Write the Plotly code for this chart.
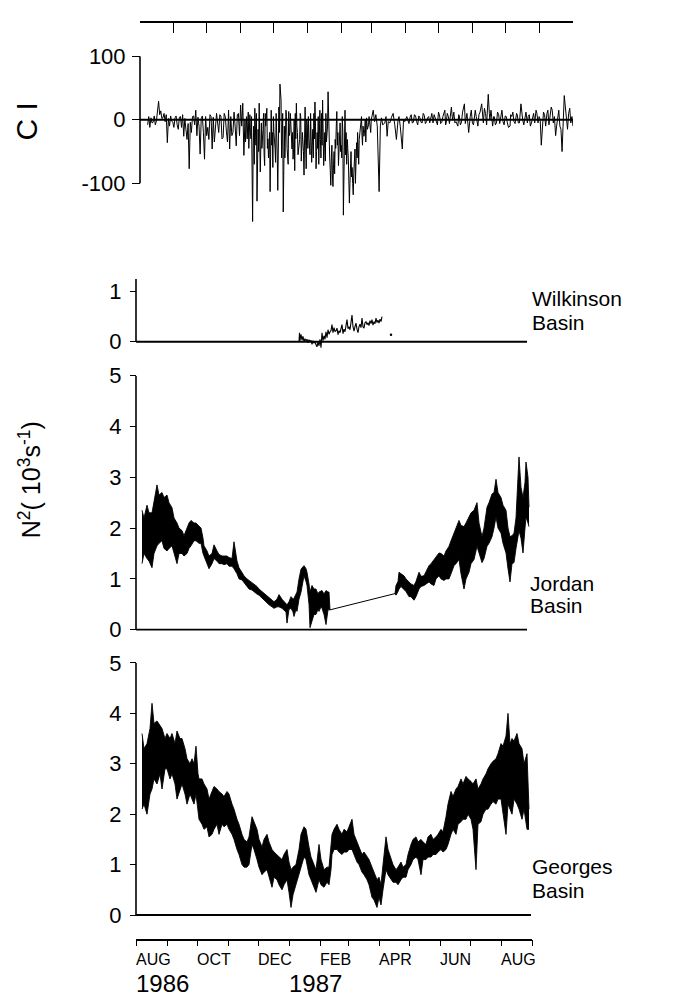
import datetime as dt
import plotly.graph_objects as go

W, H = 677, 1007
OFF = 8  # page body margin: page pixel = figure pixel + 8
BASE = dt.date(1986, 8, 1)

# ---------------- data ----------------
# Coastal index CI: (day since 1 Aug 1986, value) - main peaks
CI_MAIN = [
    (7, -8), (8, 5), (9, -12), (10, 3), (12, -4), (13, 6), (15, -2), (17, 29), (18, 8), (19, 14),
    (21, 3), (22, 10), (23, -3), (25, -36), (26, 2), (28, 6), (30, -4), (32, 3), (34, -8), (36, 4),
    (38, -12), (40, -26), (41, 2), (43, -31), (44, -6), (45, -77), (46, -4), (48, 5), (50, -8), (51, 15),
    (52, -25), (53, 4), (55, -54), (56, 2), (58, -20), (59, -62), (60, 5), (62, -12), (63, -31), (64, 8),
    (66, -46), (67, 4), (69, -15), (70, 10), (72, -20), (74, 6), (76, -28), (77, 10), (79, -18), (81, 15),
    (82, -46), (83, 5), (85, -20), (86, 12), (88, -41), (89, 8), (91, -25), (92, 23), (93, -10), (94, 26),
    (95, -56), (96, 0), (98, -30), (99, 12), (101, -20), (102, 5), (103, -160), (104, -10), (105, 18),
    (106, -40), (107, -128), (108, -15), (109, 26), (110, -82), (111, -5), (113, 10), (114, -72),
    (115, -10), (116, 18), (117, -30), (119, -113), (120, 15), (121, -20), (122, 5), (124, -67),
    (125, -10), (126, -111), (127, 20), (128, 56), (129, 31), (130, -30), (131, -145), (132, -10),
    (133, -36), (134, 5), (136, 13), (137, -20), (139, -46), (140, -62), (141, 0), (142, 10), (143, 26),
    (144, -20), (146, -31), (147, 5), (148, -40), (150, -87), (151, 20), (152, -77), (153, -10), (154, 5),
    (156, 10), (157, -67), (158, -15), (159, 10), (160, 28), (161, -77), (162, -20), (163, 5), (165, -31),
    (166, 10), (167, 31), (168, -72), (169, -20), (170, 10), (172, 44), (172.5, -5), (173.5, -60),
    (174.5, -103), (175.5, -40), (176.5, -105), (177.5, -50), (178.5, -31), (180, 13), (181.5, -72),
    (183, -5), (184, -40), (185, 5), (186, -150), (187.5, 15), (188.5, -20), (189.6, -31), (190.5, -60),
    (191.5, -131), (192.6, -72), (193.5, -90), (195, -118), (196, -60), (196.6, -46), (197.5, -80),
    (198.1, -36), (199, -20), (200.5, -31), (201.5, -5), (202.6, 5), (204, -10), (204.8, -26), (206, 0),
    (207.2, 3), (209, -8), (210.3, -13), (212, 5), (213.3, 15), (214.5, -3), (215.7, 8), (217, -10),
    (218.7, -113), (219.8, -10), (220.8, 3), (222, -8), (223.9, -5), (225, 5), (226, -26), (227, -3),
    (228.5, -5), (230, 4), (231.5, 10), (233, -8), (234.5, -31), (236, 0), (236.9, 5), (238, -10),
    (239.9, -46), (241, 0), (242.1, -3), (244, 5), (246, -6), (248, 8), (250, -4), (252, 6), (254, -8),
    (256, 3), (258, -5), (260, 7), (262, -3), (264, 5), (266.9, 10), (268, -5), (270, 3), (272, -8),
    (274, 6), (276, -4), (278.8, 15), (280, -5), (282, 5), (284.8, 20), (286, 0), (288, -5), (290.7, -10),
    (292, 6), (294, -4), (296.7, 25), (298, 0), (300.6, -20), (302, 5), (304, -5), (306.6, 15), (308, -3),
    (310, 8), (312.5, 25), (314, -5), (316, 10), (318.5, 40), (320, 0), (322.5, -10), (324, 5), (326, -5),
    (328, 8), (330.5, 10), (332, -3), (334, 6), (336, -5), (338.4, -10), (340, 5), (342, -3), (344.4, 10),
    (346, -5), (348.4, 25), (350, 0), (352, 5), (354.3, -5), (356, 8), (358, -5), (360, 10), (362.2, 15),
    (364, -5), (365, 5), (367, -40), (368, -5), (370, 8), (372.2, 10), (374, -8), (376.1, 20), (378, -5),
    (380.1, -25), (382, 8), (384, -10), (386, -50), (387, 5), (388, 38), (390, -5), (392, 10), (394, -5),
    (396, -10),
]
# finer CI wiggles read between the main peaks
CI_EARLY_DETAIL = [
    (7.5, 3), (11, -5), (14, -8), (16, 10), (20, 2), (24, 8), (27, -10), (29, -2), (31, -12), (33, 6),
    (35, -15), (37, 5), (39, 8), (42, -15), (47, -20), (49, 6), (54, -10), (57, 6), (61, -25), (65, 5),
    (68, -35), (71, -5), (73, 8), (75, -30), (78, 5), (80, -35), (84, -25), (87, -10), (90, 10),
]
CI_WINTER_DETAIL = [
    (95.5, -20), (96.5, -35), (97.5, 5), (99.5, -45), (100.5, 8), (101.5, -30), (102.5, -60),
    (103.5, -40), (104.5, -70), (105.5, -10), (106.5, 10), (108.5, -50), (109.5, -30), (111.5, -45),
    (112.5, -15), (113.5, -55), (114.5, 10), (116.5, -45), (117.5, -60), (118.5, -20), (120.5, -40),
    (121.5, -75), (122.5, -20), (123.5, -45), (124.5, 10), (125.5, -55), (126.5, -30), (127.5, -20),
    (129.5, -60), (130.5, 10), (131.5, -80), (132.5, -60), (133.5, 15), (134.5, -45), (135.5, -70),
    (136.5, -25), (137.5, 10), (138.5, -30), (139.5, -20), (140.5, -45), (141.5, -80), (142.5, -30),
    (143.5, -10), (144.5, -55), (145.5, -40), (146.5, 10), (147.5, -65), (148.5, -20), (149.5, -50),
    (150.5, -30), (151.5, -40), (152.5, 0), (153.5, -45), (154.5, -30), (155.5, -55), (156.5, -20),
    (157.5, -40), (158.5, -60), (159.5, -30), (160.5, -10), (161.5, -50), (162.5, -45), (163.5, -70),
    (164.5, 15), (165.5, -60), (166.5, -40), (167.5, 0), (168.5, -45), (169.5, -65), (170.5, -35),
    (171.5, -10), (173, -40), (174, -80), (175, -60), (176, -90), (177, -70), (178, -85), (179, -45),
    (179.5, -10), (180.5, -40), (181, -20), (182, -55), (182.5, -30), (183.5, -50), (184.5, -60),
    (185.5, -20), (186.5, -90), (187, -40), (188, -55), (189, -70), (190, -45), (191, -85), (192, -100),
    (193, -50), (194, -75), (194.5, -100), (195.5, -85), (197, -100), (198.6, -60), (199.5, -40),
    (200, -70), (201, -20), (203, -25), (203.5, -40), (205.5, -15), (206.5, -35), (208, -15),
    (209.5, 5), (211, -20), (211.5, 0),
]
CI_SUMMER_DETAIL = [
    (245, -3), (247, 4), (249, -5), (251, 8), (253, -3), (255, 6), (257, -4), (259, 10), (261, -6),
    (263, 3), (265, -5), (267.5, 2), (269, 8), (271, -4), (273, 12), (275, -6), (277, 5), (279.5, -8),
    (281, 10), (283, -6), (285.5, 5), (287, 12), (289, -3), (291.5, 8), (293, -8), (295, 12),
    (297.5, -6), (299, 10), (301.5, 5), (303, 15), (305, -8), (307.5, 5), (309, -10), (311, 12),
    (313.5, -5), (315, 18), (317, -8), (319.5, 10), (321, 15), (323.5, 5), (325, -8), (327, 12),
    (329, -6), (331, 15), (333, -8), (335, 5), (337, -12), (339, 8), (341, 12), (343, -6), (345, 8),
    (347, -5), (349, 10), (351, -8), (353, 12), (355, 5), (357, -10), (359, 5), (361, -5), (363, 10),
    (366, 0), (369, 12), (371, -10), (373, 15), (375, 5), (377, 15), (379, 5), (381, -10), (383, 15),
    (385, -15), (389, 20), (391, -15), (393, 18), (395, 5),
]

# Wilkinson Basin N^2: (day, value)
WILKINSON = [
    (163, 0.0), (163.5, 0.18), (164, 0.02), (165, 0.15), (166, 0.03), (167, 0.11), (168, 0.0),
    (169, 0.06), (170, 0.02), (171, 0.05), (172, -0.02), (173, 0.04), (174, 0.0), (175, 0.03),
    (176, -0.05), (177, 0.02), (178, -0.03), (179, 0.01), (180, -0.06), (181, -0.1), (182, 0.0),
    (183, -0.08), (184, 0.05), (185, -0.12), (186, 0.18), (187, 0.02), (188, 0.12), (189, 0.05),
    (190, 0.2), (191, 0.08), (192, 0.24), (193, 0.15), (194, 0.2), (195, 0.22), (196, 0.34), (197, 0.18),
    (198, 0.28), (199, 0.2), (200, 0.22), (201, 0.27), (202, 0.14), (203, 0.22), (204, 0.18), (205, 0.3),
    (206, 0.34), (207, 0.16), (208, 0.25), (209, 0.2), (210, 0.3), (211, 0.44), (212, 0.26), (213, 0.3),
    (214, 0.24), (215, 0.4), (216, 0.53), (217, 0.3), (218, 0.21), (219, 0.3), (220, 0.37), (221, 0.25),
    (222, 0.18), (223, 0.3), (224, 0.35), (225, 0.28), (226, 0.47), (227, 0.3), (228, 0.27), (229, 0.38),
    (230, 0.4), (231, 0.34), (232, 0.38), (233, 0.32), (234, 0.42), (235, 0.36), (236, 0.44), (237, 0.33),
    (238, 0.4), (239, 0.36), (240, 0.47), (241, 0.38), (242, 0.43), (243, 0.37), (244, 0.45), (245, 0.4),
    (246, 0.5),
]
WILKINSON_DOT = [(255, 0.14)]

# Jordan Basin N^2 envelope: (day, high, low)
JORDAN_1 = [
    (6, 2.35, 1.3), (8, 2.2, 1.5), (11, 2.45, 1.4), (13, 2.3, 1.35), (16, 2.3, 1.22), (18, 2.5, 1.5),
    (21, 2.85, 1.65), (23, 2.65, 1.7), (26, 2.7, 1.75), (28, 2.6, 1.6), (31, 2.65, 1.55), (33, 2.5, 1.6),
    (36, 2.4, 1.65), (38, 2.2, 1.5), (41, 2.1, 1.3), (43, 2.0, 1.5), (46, 1.95, 1.5), (48, 1.85, 1.45),
    (51, 2.0, 1.5), (53, 2.1, 1.6), (55, 2.15, 1.65), (58, 2.1, 1.75), (60, 2.1, 1.75), (63, 2.05, 1.7),
    (65, 2.0, 1.7), (67, 1.8, 1.5), (68, 1.65, 1.45), (71, 1.55, 1.3), (73, 1.45, 1.2), (76, 1.5, 1.3),
    (78, 1.67, 1.4), (81, 1.55, 1.35), (83, 1.48, 1.3), (86, 1.45, 1.3), (88, 1.45, 1.28), (91, 1.45, 1.3),
    (93, 1.42, 1.25), (96, 1.4, 1.25), (98, 1.73, 1.2), (101, 1.35, 1.1), (103, 1.22, 1.0),
    (106, 1.12, 0.98), (108, 1.06, 0.93), (111, 1.0, 0.87), (113, 0.97, 0.8), (116, 0.93, 0.78),
    (118, 0.9, 0.74), (121, 0.85, 0.7), (123, 0.8, 0.68), (126, 0.75, 0.62), (128, 0.71, 0.58),
    (131, 0.67, 0.53), (133, 0.62, 0.49), (136, 0.58, 0.45), (138, 0.55, 0.42), (141, 0.6, 0.45),
    (143, 0.69, 0.45), (146, 0.6, 0.42), (148, 0.55, 0.39), (150, 0.5, 0.35), (151, 0.49, 0.13),
    (153, 0.55, 0.4), (155, 0.65, 0.42), (157, 0.6, 0.35), (158, 0.62, 0.26), (160, 0.7, 0.4),
    (161, 0.74, 0.36), (163, 1.0, 0.6), (165, 1.19, 0.74), (167, 1.24, 1.0), (168, 1.26, 1.06),
    (170, 1.2, 0.95), (171, 1.13, 0.87), (173, 0.9, 0.5), (174, 0.74, 0.04), (176, 0.87, 0.17),
    (178, 0.8, 0.3), (180, 0.8, 0.3), (182, 0.7, 0.4), (183, 0.74, 0.36), (185, 0.75, 0.45),
    (186, 0.77, 0.42), (188, 0.7, 0.3), (190, 0.77, 0.1), (192, 0.74, 0.39), (193, 0.74, 0.39),
    (194, 0.39, 0.39),
]
JORDAN_GAP = [(194, 0.39), (259, 0.71)]
JORDAN_2 = [
    (259, 0.71, 0.71), (260, 0.87, 0.68), (262, 0.95, 0.75), (263, 1.13, 0.8), (265, 1.1, 0.85),
    (268, 1.06, 0.8), (270, 1.0, 0.75), (273, 0.94, 0.65), (275, 0.9, 0.65), (278, 0.87, 0.58),
    (280, 0.95, 0.65), (283, 1.13, 0.8), (285, 1.05, 0.85), (288, 1.06, 0.87), (290, 1.15, 0.9),
    (293, 1.26, 0.94), (295, 1.3, 0.9), (298, 1.38, 0.87), (300, 1.45, 1.0), (303, 1.51, 1.06),
    (305, 1.5, 1.0), (308, 1.45, 0.97), (310, 1.55, 1.0), (313, 1.64, 1.0), (315, 1.75, 1.1),
    (318, 1.9, 1.26), (320, 2.0, 1.3), (323, 2.15, 1.38), (325, 2.05, 1.1), (328, 2.03, 0.8),
    (330, 2.1, 1.0), (333, 2.22, 1.13), (335, 2.3, 1.3), (338, 2.35, 1.38), (341, 2.5, 1.64),
    (343, 2.1, 1.5), (346, 1.83, 1.32), (348, 2.0, 1.4), (351, 2.41, 1.64), (353, 2.5, 1.7),
    (356, 2.67, 1.83), (358, 2.7, 2.0), (360, 2.96, 2.22), (362, 2.7, 2.0), (365, 2.6, 1.9),
    (367, 2.45, 1.7), (370, 2.35, 1.51), (372, 2.0, 1.2), (374, 1.83, 0.94), (376, 1.85, 1.3),
    (378, 1.9, 1.32), (380, 2.2, 1.6), (382, 3.24, 1.9), (383, 3.4, 1.95), (385, 2.8, 1.8),
    (387, 2.6, 1.51), (389, 2.9, 2.0), (390, 3.3, 2.22), (392, 3.0, 2.1), (393, 2.41, 2.03),
]

# Georges Basin N^2 envelope: (day, high, low)
GEORGES = [
    (6, 3.6, 2.1), (8, 3.3, 2.2), (11, 3.4, 2.0), (14, 3.7, 2.4), (16, 4.2, 2.5), (18, 3.8, 2.7),
    (21, 3.85, 2.6), (24, 3.75, 2.8), (26, 3.7, 2.5), (29, 3.5, 2.9), (31, 3.6, 2.9), (34, 3.5, 2.7),
    (36, 3.6, 2.8), (39, 3.4, 2.6), (41, 3.65, 2.3), (44, 3.5, 2.5), (46, 3.5, 2.6), (49, 3.3, 2.4),
    (51, 3.1, 2.2), (54, 3.0, 2.4), (56, 3.1, 2.3), (58, 3.0, 2.2), (60, 3.35, 2.4), (62, 2.8, 2.0),
    (63, 2.7, 1.9), (66, 2.7, 1.8), (68, 2.6, 1.7), (71, 2.5, 1.75), (73, 2.3, 1.55), (76, 2.45, 1.6),
    (78, 2.55, 1.7), (81, 2.5, 1.8), (83, 2.45, 1.6), (86, 2.4, 1.8), (88, 2.35, 1.75), (91, 2.45, 1.8),
    (93, 2.4, 1.7), (96, 2.2, 1.6), (98, 2.1, 1.5), (101, 1.9, 1.3), (103, 1.8, 1.2), (106, 1.6, 1.0),
    (108, 1.5, 0.95), (111, 1.45, 0.95), (113, 1.55, 1.0), (116, 1.95, 1.4), (118, 1.85, 1.3),
    (121, 1.7, 1.1), (123, 1.5, 0.95), (126, 1.35, 0.8), (128, 1.5, 0.85), (131, 1.6, 0.9),
    (133, 1.45, 0.75), (136, 1.3, 0.55), (138, 1.25, 0.75), (141, 1.2, 0.7), (143, 1.15, 0.6),
    (146, 1.1, 0.5), (148, 1.2, 0.6), (151, 1.3, 0.7), (153, 1.05, 0.45), (155, 0.9, 0.15),
    (157, 0.95, 0.4), (160, 1.0, 0.6), (163, 1.3, 0.8), (165, 1.6, 0.9), (168, 1.75, 1.15),
    (170, 1.7, 1.1), (173, 1.35, 0.8), (175, 1.15, 0.7), (178, 1.0, 0.55), (180, 0.9, 0.45),
    (183, 1.4, 0.7), (185, 1.1, 0.6), (188, 0.9, 0.55), (191, 0.95, 0.65), (193, 0.95, 0.6),
    (195, 1.3, 0.9), (196, 1.6, 1.2), (198, 1.7, 1.3), (201, 1.8, 1.3), (203, 1.7, 1.25),
    (206, 1.6, 1.2), (208, 1.7, 1.25), (211, 1.65, 1.25), (213, 1.75, 1.3), (216, 1.9, 1.3),
    (218, 1.6, 1.2), (221, 1.45, 1.05), (223, 1.35, 1.0), (226, 1.2, 0.85), (228, 1.25, 0.8),
    (231, 1.15, 0.7), (233, 1.1, 0.6), (236, 0.95, 0.35), (238, 0.85, 0.3), (241, 0.7, 0.15),
    (243, 0.75, 0.35), (245, 0.6, 0.2), (247, 1.0, 0.5), (250, 1.55, 0.9), (252, 1.3, 0.8),
    (255, 1.1, 0.7), (257, 1.0, 0.65), (260, 0.9, 0.65), (262, 0.95, 0.6), (265, 1.05, 0.7),
    (267, 0.95, 0.75), (270, 1.0, 0.75), (272, 1.2, 0.9), (275, 1.4, 1.0), (277, 1.5, 1.1),
    (280, 1.55, 1.15), (282, 1.45, 1.1), (285, 1.5, 0.8), (287, 1.45, 1.1), (290, 1.4, 1.1),
    (292, 1.55, 1.15), (295, 1.6, 1.15), (297, 1.5, 1.2), (300, 1.55, 1.2), (302, 1.6, 1.25),
    (305, 1.7, 1.3), (307, 1.65, 1.25), (310, 1.95, 1.3), (312, 2.2, 1.4), (315, 2.45, 1.6),
    (317, 2.35, 1.7), (320, 2.5, 1.6), (322, 2.55, 1.8), (325, 2.7, 1.85), (327, 2.6, 1.9),
    (330, 2.75, 1.9), (332, 2.7, 2.0), (335, 2.65, 1.9), (337, 2.6, 1.7), (340, 2.7, 0.9),
    (342, 2.5, 1.8), (345, 2.6, 1.85), (347, 2.7, 2.0), (350, 2.8, 2.1), (352, 2.9, 2.1),
    (355, 3.0, 2.2), (357, 3.05, 2.25), (360, 3.1, 2.2), (362, 3.2, 2.3), (365, 3.4, 2.3),
    (367, 3.35, 2.0), (370, 3.55, 1.6), (372, 4.0, 2.2), (374, 3.4, 2.1), (376, 3.5, 2.0),
    (378, 3.45, 2.3), (381, 3.6, 2.2), (383, 3.4, 2.1), (386, 3.3, 1.9), (388, 3.0, 2.1),
    (391, 3.2, 1.7), (393, 2.1, 1.7),
]

MONTH_LABELS = [("1986-08-01", "AUG"), ("1986-10-01", "OCT"), ("1986-12-01", "DEC"),
                ("1987-02-01", "FEB"), ("1987-04-01", "APR"), ("1987-06-01", "JUN"),
                ("1987-08-01", "AUG")]
YEAR_LABELS = [("1986-08-01", "1986"), ("1987-01-01", "1987")]
CI_TICKS = [-100, 0, 100]
CI_TICKTEXT = ["-100", "0", "100"]
N2_TICKS = [0, 1, 2, 3, 4, 5]
WILK_TICKS = [0, 1]

# ---------------- helpers (page pixels -> paper) ----------------
def day2date(d):
    return (dt.datetime(BASE.year, BASE.month, BASE.day) + dt.timedelta(days=d)).isoformat()

def px_x(p):
    return (p - OFF) / W

def px_y(p):
    return 1 - (p - OFF) / H

FONT = "Liberation Sans, Arial, Helvetica, sans-serif"
TOP_X0, TOP_X1 = 140, 573     # CI panel horizontal extent
LOW_X0, LOW_X1 = 136, 532     # N^2 panels horizontal extent

fig = go.Figure()

# CI (main peaks merged with the finer wiggles, in time order)
ci_all = sorted(CI_MAIN + CI_EARLY_DETAIL + CI_WINTER_DETAIL + CI_SUMMER_DETAIL)
fig.add_trace(go.Scatter(x=[day2date(d) for d, v in ci_all], y=[v for d, v in ci_all],
                         mode="lines", line=dict(color="black", width=1.0),
                         xaxis="x2", yaxis="y", showlegend=False, hoverinfo="skip"))

# Wilkinson
fig.add_trace(go.Scatter(x=[day2date(d) for d, v in WILKINSON], y=[v for d, v in WILKINSON],
                         mode="lines", line=dict(color="black", width=1.1),
                         xaxis="x", yaxis="y2", showlegend=False, hoverinfo="skip"))
fig.add_trace(go.Scatter(x=[day2date(d) for d, v in WILKINSON_DOT], y=[v for d, v in WILKINSON_DOT],
                         mode="markers", marker=dict(color="black", size=2.5),
                         xaxis="x", yaxis="y2", showlegend=False, hoverinfo="skip"))

def add_band(rows, yaxis):
    xs = [day2date(r[0]) for r in rows]
    fig.add_trace(go.Scatter(x=xs, y=[r[1] for r in rows], mode="lines",
                             line=dict(color="black", width=0.9),
                             xaxis="x", yaxis=yaxis, showlegend=False, hoverinfo="skip"))
    fig.add_trace(go.Scatter(x=xs, y=[r[2] for r in rows], mode="lines",
                             line=dict(color="black", width=0.9), fill="tonexty",
                             fillcolor="black",
                             xaxis="x", yaxis=yaxis, showlegend=False, hoverinfo="skip"))

add_band(JORDAN_1, "y3")
fig.add_trace(go.Scatter(x=[day2date(d) for d, v in JORDAN_GAP], y=[v for d, v in JORDAN_GAP],
                         mode="lines", line=dict(color="black", width=1),
                         xaxis="x", yaxis="y3", showlegend=False, hoverinfo="skip"))
add_band(JORDAN_2, "y3")
add_band(GEORGES, "y4")

tickfont = dict(family=FONT, size=22, color="black")
xrange = ["1986-08-01", "1987-09-01"]

fig.update_layout(
    width=W, height=H, margin=dict(l=0, r=0, t=0, b=0),
    paper_bgcolor="white", plot_bgcolor="rgba(0,0,0,0)",
    showlegend=False,
    xaxis=dict(domain=[px_x(LOW_X0), px_x(LOW_X1)], range=xrange, type="date",
               anchor="free", position=px_y(949), side="bottom",
               showline=True, linecolor="black", linewidth=1.6,
               ticks="outside", ticklen=6, tickwidth=1.4, tickcolor="black",
               dtick="M1", tick0="1986-08-01", showticklabels=False,
               showgrid=False, zeroline=False),
    xaxis2=dict(domain=[px_x(TOP_X0), px_x(TOP_X1)], range=xrange, type="date",
                anchor="free", position=px_y(10), side="top",
                showline=True, linecolor="black", linewidth=1.6,
                ticks="inside", ticklen=10, tickwidth=1.4, tickcolor="black",
                dtick="M1", tick0="1986-08-01", showticklabels=False,
                showgrid=False, zeroline=False),
    yaxis=dict(domain=[px_y(224), px_y(45)], range=[-175, 100],
               anchor="free", position=px_x(TOP_X0), side="left",
               tickvals=CI_TICKS, ticktext=CI_TICKTEXT, ticks="outside", ticklen=8,
               tickwidth=1.4, tickcolor="black", tickfont=tickfont,
               showline=False, showgrid=False, zeroline=False, ticklabelstandoff=2),
    yaxis2=dict(domain=[px_y(345), px_y(273)], range=[-0.15, 1.25],
                anchor="free", position=px_x(LOW_X0), side="left",
                tickvals=WILK_TICKS, ticktext=[str(t) for t in WILK_TICKS],
                ticks="outside", ticklen=6, tickwidth=1.4, tickcolor="black",
                tickfont=tickfont, showline=False, showgrid=False, zeroline=False,
                ticklabelstandoff=4),
    yaxis3=dict(domain=[px_y(634), px_y(372)], range=[-0.04, 5],
                anchor="free", position=px_x(LOW_X0), side="left",
                tickvals=N2_TICKS, ticktext=[str(t) for t in N2_TICKS],
                ticks="outside", ticklen=6, tickwidth=1.4, tickcolor="black",
                tickfont=tickfont, showline=False, showgrid=False, zeroline=False,
                ticklabelstandoff=4),
    yaxis4=dict(domain=[px_y(926), px_y(666)], range=[-0.04, 5],
                anchor="free", position=px_x(LOW_X0), side="left",
                tickvals=N2_TICKS, ticktext=[str(t) for t in N2_TICKS],
                ticks="outside", ticklen=6, tickwidth=1.4, tickcolor="black",
                tickfont=tickfont, showline=False, showgrid=False, zeroline=False,
                ticklabelstandoff=4),
)

shapes = []
def vline(xpix, yref, y0, y1):
    shapes.append(dict(type="line", xref="paper", x0=px_x(xpix), x1=px_x(xpix),
                       yref=yref, y0=y0, y1=y1, line=dict(color="black", width=1.6)))
def hline(x0pix, x1pix, yref):
    shapes.append(dict(type="line", xref="paper", x0=px_x(x0pix), x1=px_x(x1pix),
                       yref=yref, y0=0, y1=0, line=dict(color="black", width=1.8)))

vline(TOP_X0, "y", -100, 100)
hline(TOP_X0, 573, "y")
vline(LOW_X0, "y2", 0, 1.25)
hline(LOW_X0, 527, "y2")
vline(LOW_X0, "y3", 0, 5)
hline(LOW_X0, 527, "y3")
vline(LOW_X0, "y4", 0, 5)
hline(LOW_X0, 531, "y4")
fig.update_layout(shapes=shapes)

ann = []
for d, t in MONTH_LABELS:
    ann.append(dict(x=d, xref="x", y=px_y(969), yref="paper", text=t, showarrow=False,
                    xanchor="left", yanchor="middle", xshift=-2,
                    font=dict(family=FONT, size=16, color="black")))
for d, t in YEAR_LABELS:
    ann.append(dict(x=d, xref="x", y=px_y(994), yref="paper", text=t, showarrow=False,
                    xanchor="left", yanchor="middle", xshift=-2,
                    font=dict(family=FONT, size=24, color="black")))

side_labels = [(530, 293, "Wilkinson"), (530, 318, "Basin"),
               (528, 585, "Jordan"), (528, 607, "Basin"),
               (530, 874, "Georges"), (530, 899, "Basin")]
for x, y, t in side_labels:
    ann.append(dict(x=px_x(x), xref="paper", y=px_y(y), yref="paper", text=t, showarrow=False,
                    xanchor="left", yanchor="middle",
                    font=dict(family=FONT, size=21, color="black")))

ann.append(dict(x=px_x(27), xref="paper", y=px_y(112), yref="paper", text="C I", showarrow=False,
                textangle=-90, xanchor="center", yanchor="middle",
                font=dict(family=FONT, size=30, color="black")))
ann.append(dict(x=px_x(30), xref="paper", y=px_y(479), yref="paper",
                text="N<sup>2</sup>( 10<sup>3</sup>s<sup>-1</sup>)", showarrow=False,
                textangle=-90, xanchor="center", yanchor="middle",
                font=dict(family=FONT, size=25, color="black")))
fig.update_layout(annotations=ann)

fig.write_html("out.html")
